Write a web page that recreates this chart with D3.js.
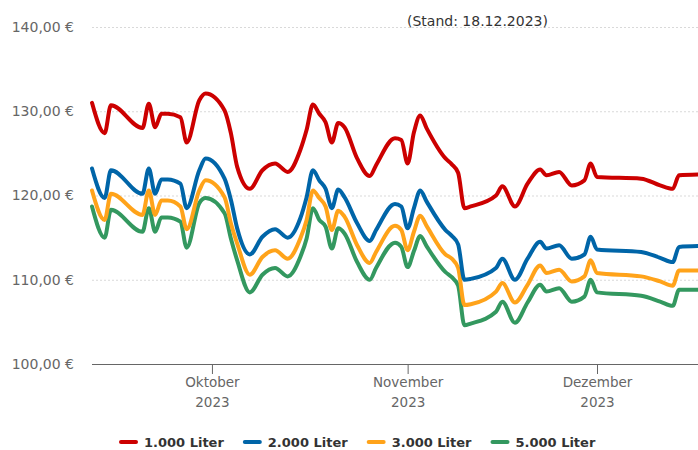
<!DOCTYPE html>
<html>
<head>
<meta charset="utf-8">
<script src="https://cdn.jsdelivr.net/npm/d3@7"></script>
<style>
  body { margin: 0; background: #fff; }
  svg text { font-family: "DejaVu Sans", Verdana, sans-serif; }
  .grid line { stroke: #d9d9d9; stroke-dasharray: 2,2; }
  .grid path { display: none; }
  .axis text { fill: #666; }
  .line { fill: none; stroke-width: 4; stroke-linejoin: round; stroke-linecap: round; }
</style>
</head>
<body>
<div id="chart"></div>
<script>
var dates = ['2023-09-12', '2023-09-14', '2023-09-15', '2023-09-20', '2023-09-21', '2023-09-22',
  '2023-09-23', '2023-09-24', '2023-09-26', '2023-09-27', '2023-09-29', '2023-09-30',
  '2023-10-03', '2023-10-04', '2023-10-05', '2023-10-07', '2023-10-09', '2023-10-11',
  '2023-10-13', '2023-10-15', '2023-10-16', '2023-10-17', '2023-10-18', '2023-10-19',
  '2023-10-20', '2023-10-21', '2023-10-22', '2023-10-24', '2023-10-26', '2023-10-27',
  '2023-10-30', '2023-10-31', '2023-11-01', '2023-11-02', '2023-11-03', '2023-11-04',
  '2023-11-07', '2023-11-08', '2023-11-09', '2023-11-10', '2023-11-11', '2023-11-15',
  '2023-11-16', '2023-11-18', '2023-11-20', '2023-11-22', '2023-11-23', '2023-11-25',
  '2023-11-27', '2023-11-29', '2023-11-30', '2023-12-01', '2023-12-08', '2023-12-11',
  '2023-12-13', '2023-12-14', '2023-12-17'];

var liter1000 = [131.0, 127.4, 130.7, 128.0, 130.9, 128.1, 129.7, 129.7, 129.3, 126.3, 131.3, 132.1,
  130.1, 127.4, 123.4, 120.8, 123.0, 123.8, 122.8, 125.4, 127.8, 130.8, 129.7, 128.7,
  126.3, 128.6, 128.1, 124.4, 122.3, 123.6, 126.8, 126.6, 123.8, 127.5, 129.5, 128.0,
  124.4, 123.7, 122.7, 118.5, 118.7, 120.0, 121.1, 118.7, 121.4, 123.1, 122.4, 122.8,
  121.2, 121.8, 123.8, 122.2, 122.0, 121.2, 120.8, 122.4, 122.5];

var liter2000 = [123.2, 119.7, 123.0, 120.2, 123.2, 120.2, 121.9, 121.9, 121.4, 118.5, 123.0, 124.4,
  122.0, 119.5, 116.1, 113.0, 115.1, 116.0, 115.0, 117.3, 119.8, 123.0, 121.8, 120.8,
  118.5, 120.7, 119.8, 116.7, 114.6, 115.9, 119.0, 118.7, 116.1, 118.5, 120.6, 119.3,
  115.9, 115.2, 114.2, 110.0, 110.1, 111.4, 112.5, 110.0, 112.5, 114.5, 113.7, 114.1,
  112.5, 113.0, 115.1, 113.6, 113.3, 112.6, 112.1, 113.9, 114.0];

var liter3000 = [120.6, 117.1, 120.2, 117.7, 120.6, 117.7, 119.4, 119.4, 118.7, 116.0, 120.6, 121.8,
  119.8, 116.7, 114.3, 110.6, 112.7, 113.5, 112.5, 114.9, 117.1, 120.6, 119.7, 118.7,
  115.9, 118.2, 117.5, 114.1, 112.0, 113.3, 116.4, 115.9, 113.5, 115.7, 117.6, 116.4,
  113.0, 112.5, 111.4, 107.0, 107.1, 108.6, 109.6, 107.3, 109.4, 111.7, 110.8, 111.2,
  109.8, 110.4, 112.3, 110.8, 110.4, 109.8, 109.3, 111.1, 111.1];

var liter5000 = [118.7, 115.0, 118.3, 115.7, 118.5, 115.7, 117.4, 117.4, 116.9, 113.8, 119.1, 119.7,
  117.9, 114.9, 112.3, 108.5, 110.6, 111.4, 110.4, 112.7, 114.9, 118.5, 117.1, 116.3,
  113.7, 116.1, 115.5, 112.1, 110.0, 111.4, 114.4, 113.9, 111.5, 113.4, 115.2, 114.0,
  110.9, 110.3, 109.3, 104.6, 104.8, 106.2, 107.4, 104.9, 107.3, 109.4, 108.6, 109.0,
  107.4, 108.0, 110.0, 108.5, 108.1, 107.4, 106.9, 108.8, 108.8];

var seriesNames = ['1.000 Liter', '2.000 Liter', '3.000 Liter', '5.000 Liter'];
var seriesColors = ['#cc0000', '#0065a8', '#ffa31a', '#33985f'];
var yTicks = [100, 110, 120, 130, 140];
var monthTicks = ['2023-10-01', '2023-11-01', '2023-12-01'];
var monthNames = ['Oktober', 'November', 'Dezember'];
var standLabel = '(Stand: 18.12.2023)';

var size = { width: 698, height: 450 };
var margin = { top: 27, right: 0, bottom: 86, left: 92 };
var parseDate = d3.timeParse('%Y-%m-%d');

var x = d3.scaleTime()
  .domain([parseDate('2023-09-12'), parseDate('2023-12-17')])
  .range([margin.left, size.width - margin.right]);

var y = d3.scaleLinear()
  .domain([100, 140])
  .range([size.height - margin.bottom, margin.top]);

var svg = d3.select('#chart').append('svg')
  .attr('width', size.width)
  .attr('height', size.height);

// dotted grid lines
svg.append('g')
  .attr('class', 'grid')
  .attr('transform', `translate(${margin.left}, 0)`)
  .call(d3.axisLeft(y).tickValues(yTicks.slice(1)).tickSize(-(size.width - margin.left - margin.right)).tickFormat(''));

// y labels
var yAxis = svg.append('g')
  .attr('class', 'axis y')
  .attr('transform', `translate(${margin.left - 18}, 0)`)
  .call(d3.axisLeft(y).tickValues(yTicks).tickSize(0).tickPadding(0)
    .tickFormat(d => d3.format('.2f')(d).replace('.', ',') + ' €'));
yAxis.select('.domain').remove();
yAxis.selectAll('text').style('font-size', '14px');

// x axis
var xAxis = svg.append('g')
  .attr('class', 'axis x')
  .attr('transform', `translate(0, ${y(100)})`)
  .call(d3.axisBottom(x).tickValues(monthTicks.map(parseDate)).tickSize(10).tickFormat(''));
xAxis.select('.domain').attr('stroke', '#666').attr('d', `M${margin.left},0.5H${size.width}`);
xAxis.selectAll('.tick line').attr('stroke', '#666');
xAxis.selectAll('.tick').each(function(d, i) {
  var t = d3.select(this).append('text')
    .attr('text-anchor', 'middle')
    .style('font-size', '13.5px')
    .attr('fill', '#666');
  t.append('tspan').attr('x', 0).attr('y', 23).text(monthNames[i]);
  t.append('tspan').attr('x', 0).attr('y', 43).text('2023');
});

// lines
var allSeries = [liter1000, liter2000, liter3000, liter5000];
var line = d3.line()
  .x(d => x(d.date))
  .y(d => y(d.value))
  .curve(d3.curveMonotoneX);

allSeries.slice().reverse().forEach(function(values, k) {
  var i = allSeries.length - 1 - k;
  var data = dates.map((d, j) => ({ date: parseDate(d), value: values[j] }));
  svg.append('path')
    .datum(data)
    .attr('class', 'line')
    .attr('stroke', seriesColors[i])
    .attr('d', line);
});

// stand label
svg.append('text')
  .attr('x', 407)
  .attr('y', 26)
  .style('font-size', '14px')
  .attr('fill', '#333')
  .text(standLabel);

// legend
var legend = svg.append('g').attr('class', 'legend');
var lx = 120;
seriesNames.forEach(function(name, i) {
  legend.append('line')
    .attr('x1', lx + 1).attr('x2', lx + 16)
    .attr('y1', 442).attr('y2', 442)
    .attr('stroke', seriesColors[i])
    .attr('stroke-width', 4)
    .attr('stroke-linecap', 'round');
  var txt = legend.append('text')
    .attr('x', lx + 24)
    .attr('y', 447)
    .style('font-size', '13px')
    .style('font-weight', 'bold')
    .attr('fill', '#333')
    .text(name);
  lx = lx + 24 + txt.node().getComputedTextLength() + 20;
});
</script>
</body>
</html>
